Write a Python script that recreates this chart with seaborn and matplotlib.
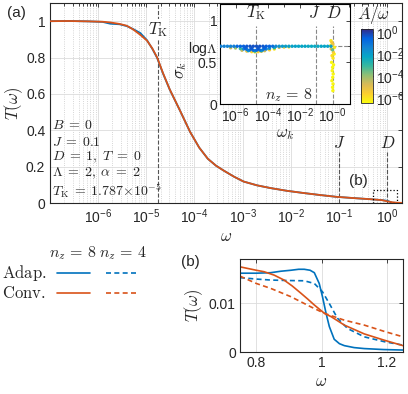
import numpy as np
import pandas as pd
import matplotlib
matplotlib.use("Agg")
import matplotlib.pyplot as plt
import seaborn as sns
from matplotlib.colors import LogNorm, LinearSegmentedColormap
from matplotlib.patches import Rectangle
from matplotlib.cm import ScalarMappable

# ---------------- data ----------------
TK = 1.787e-5
J_val = 0.1
D_val = 1.0

# main panel (a): log10(omega) and T(omega)
logw_main = [-7.0, -6.6, -6.2, -5.9, -5.74, -5.55, -5.4, -5.27, -5.12, -4.98, -4.87,
             -4.77, -4.65, -4.51, -4.30, -4.09, -3.90, -3.72, -3.55, -3.39, -3.18, -2.98,
             -2.70, -2.42, -2.08, -1.74, -1.40, -1.06, -0.70, -0.36, -0.12, 0.0, 0.1,
             0.2, 0.3]
T_conv_main = [1.000, 1.001, 0.999, 0.997, 0.993, 0.985, 0.975, 0.955, 0.925, 0.893, 0.850,
               0.800, 0.715, 0.625, 0.510, 0.392, 0.305, 0.243, 0.205, 0.178, 0.145, 0.118,
               0.097, 0.082, 0.067, 0.055, 0.044, 0.034, 0.027, 0.021, 0.016, 0.009, 0.004,
               0.0015, 0.0008]
T_adap_main = [1.000, 1.001, 0.999, 0.996, 0.986, 0.983, 0.973, 0.957, 0.935, 0.895, 0.848,
               0.798, 0.713, 0.624, 0.510, 0.392, 0.305, 0.243, 0.205, 0.178, 0.145, 0.118,
               0.097, 0.082, 0.067, 0.055, 0.044, 0.034, 0.027, 0.021, 0.016, 0.012, 0.0015,
               0.0006, 0.0004]

# panel (b)
adap8_w = [0.75, 0.80, 0.844, 0.875, 0.906, 0.93, 0.947, 0.965, 0.978, 0.993, 1.003,
           1.014, 1.024, 1.039, 1.055, 1.07, 1.10, 1.131, 1.19, 1.25]
adap8_T = [0.0161, 0.0161, 0.0162, 0.0165, 0.0167, 0.0169, 0.0169, 0.0167, 0.0162, 0.0140,
           0.0113, 0.0079, 0.0052, 0.0026, 0.0017, 0.0013, 0.0009, 0.0007, 0.0005, 0.0004]
adap4_w = [0.75, 0.80, 0.844, 0.90, 0.947, 0.978, 1.003, 1.024, 1.049, 1.08, 1.131, 1.193, 1.25]
adap4_T = [0.0152, 0.0149, 0.0147, 0.0146, 0.01455, 0.0140, 0.0123, 0.0099, 0.0069,
           0.0048, 0.0031, 0.0021, 0.0014]
conv8_w = [0.75, 0.80, 0.824, 0.855, 0.885, 0.91, 0.937, 0.958, 0.978, 1.009, 1.03,
           1.07, 1.131, 1.193, 1.25]
conv8_T = [0.0174, 0.0167, 0.0164, 0.0157, 0.0147, 0.0135, 0.0120, 0.0108, 0.0096, 0.0079,
           0.0072, 0.0055, 0.0037, 0.0024, 0.0013]
conv4_w = [0.75, 0.80, 0.844, 0.906, 0.968, 1.009, 1.07, 1.131, 1.193, 1.25]
conv4_T = [0.0155, 0.0140, 0.0130, 0.0113, 0.0092, 0.0079, 0.0065, 0.0055, 0.0042, 0.0031]

# inset: log10(omega_k), sigma_k, log10(Abar/omega)
inset_logw = [-6.9, -6.7, -6.5, -6.3, -6.1, -5.9, -5.7, -5.5, -5.3, -5.1, -4.9, -4.7,
              -4.5, -4.3, -4.1, -3.9, -3.7, -3.5, -3.3, -3.1, -2.9, -2.7, -2.5, -2.3,
              -2.1, -1.9, -1.7, -1.5, -1.3, -1.1, -0.9, -0.7, -0.5, -0.3, -0.1,
              -6.3, -6.0, -5.7, -5.5, -5.3, -5.1, -4.9, -4.7, -4.5, -4.3, -4.1, -3.9,
              -3.6, -3.3, -3.0, -2.7,
              -5.6, -5.3, -5.0, -4.8, -4.6, -4.4, -4.2, -3.9, -3.6,
              -5.4, -5.0, -4.6, -4.2, -5.2, -4.8, -4.4,
              -0.10, -0.05, 0.02, -0.08, 0.0, 0.05, -0.03, 0.03, -0.06, 0.06, 0.0,
              -0.02, 0.04, 0.01, -0.04, 0.03, 0.0, 0.02, 0.10, 0.12, -0.12]
inset_sigma = [0.693] * 35 + \
              [0.675, 0.672, 0.665, 0.660, 0.655, 0.650, 0.645, 0.645, 0.648, 0.652, 0.660, 0.668,
               0.675, 0.680, 0.683, 0.685,
               0.645, 0.635, 0.628, 0.625, 0.628, 0.632, 0.640, 0.650, 0.660,
               0.670, 0.665, 0.665, 0.670, 0.640, 0.635, 0.640,
               0.76, 0.74, 0.72, 0.66, 0.65, 0.62, 0.58, 0.55, 0.50, 0.47, 0.44,
               0.40, 0.36, 0.32, 0.28, 0.24, 0.20, 0.16, 0.60, 0.68, 0.70]
inset_logA = [-1.3, -1.3, -1.4, -1.3, -1.2, -0.7, -0.6, -0.5, -0.4, -0.3, -0.3, -0.3,
              -0.3, -0.4, -0.5, -0.6, -0.8, -1.5, -1.8, -1.9, -2.0, -2.0, -2.1, -2.1,
              -2.2, -2.2, -2.2, -2.3, -2.3, -2.3, -2.3, -2.2, -2.2, -2.1, -2.0,
              -4.5, -4.0, -3.0, -1.5, -1.0, -0.8, -0.7, -0.7, -0.8, -1.0, -1.3, -1.6,
              -2.5, -4.5, -5.5, -5.8,
              -4.5, -5.0, -5.5, -6.0, -5.5, -5.0, -4.5, -5.5, -6.0,
              -0.5, -0.4, -0.4, -0.6, -2.0, -2.5, -2.2,
              -6.0, -5.5, -5.2, -4.8, -3.5, -5.5, -5.8, -6.0, -6.3, -6.3, -6.3,
              -6.3, -6.3, -6.3, -6.3, -6.3, -6.3, -6.3, -6.3, -6.0, -6.2]

# ---------------- style ----------------
sns.set_style("white")
plt.rcParams["font.family"] = ["Liberation Sans", "DejaVu Sans"]
plt.rcParams["mathtext.fontset"] = "cm"
plt.rcParams["xtick.direction"] = "in"
plt.rcParams["ytick.direction"] = "in"
plt.rcParams["axes.linewidth"] = 0.8

BLUE = "#0072BD"
ORANGE = "#D95319"
DGRAY = "#555555"

parula = ["#352a87", "#0363e1", "#1485d4", "#06a7c6", "#38b99e",
          "#92bf73", "#d9ba56", "#fcce2e", "#f9fb0e"]
cmap = LinearSegmentedColormap.from_list("parula_r", parula[::-1])
norm = LogNorm(vmin=10 ** -6.4, vmax=10 ** 0.3)

W, H = 408, 394
fig = plt.figure(figsize=(W / 100, H / 100), dpi=100)


def rect(l, t, r, b):
    return [l / W, 1 - b / H, (r - l) / W, (b - t) / H]


def fx(px):
    return px / W


def fy(py):
    return 1 - py / H


def sfmt(e):
    return r"$\mathregular{10^{%s}}$" % e


# ---------------- main panel (a) ----------------
ax = fig.add_axes(rect(49.5, 3, 402, 203))
ax.set_xscale("log")
ax.set_axisbelow(True)
main_df = pd.DataFrame({"w": 10.0 ** np.array(logw_main),
                        "Tc": T_conv_main, "Ta": T_adap_main})
sns.lineplot(data=main_df, x="w", y="Ta", ax=ax, color=BLUE, lw=1.3, sort=False, zorder=4)
sns.lineplot(data=main_df, x="w", y="Tc", ax=ax, color=ORANGE, lw=1.3, sort=False, zorder=5)
ax.set_xlim(1e-7, 2)
ax.set_ylim(0, 1.1)
ax.set_xticks([1e-6, 1e-5, 1e-4, 1e-3, 1e-2, 1e-1, 1e0])
ax.set_xticklabels([sfmt(e) for e in ["-6", "-5", "-4", "-3", "-2", "-1", "0"]], fontsize=10)
ax.xaxis.set_minor_locator(matplotlib.ticker.LogLocator(base=10, subs=np.arange(2, 10), numticks=20))
ax.xaxis.set_minor_formatter(matplotlib.ticker.NullFormatter())
ax.set_yticks([0, 0.2, 0.4, 0.6, 0.8, 1.0])
ax.set_yticklabels(["0", "0.2", "0.4", "0.6", "0.8", "1"], fontsize=10)
ax.tick_params(which="both", top=True, right=True, length=3, width=0.6, pad=3)
ax.tick_params(which="minor", length=1.8)
ax.grid(which="major", color="#dcdcdc", lw=0.6)
ax.grid(which="minor", axis="x", color="#c8c8c8", lw=0.6, ls=":")
ax.set_xlabel(r"$\omega$", fontsize=12, labelpad=2)
ax.set_ylabel(r"$T(\omega)$", fontsize=12, labelpad=1)

ax.axvline(TK, color=DGRAY, ls="--", lw=0.8, zorder=3)
ax.text(TK, 0.955, r"$T_{\rm K}$", ha="center", va="center", fontsize=12,
        bbox=dict(fc="white", ec="none", pad=0.6), zorder=3.5)
ax.vlines([J_val, D_val], 0, 0.28, colors=DGRAY, linestyles="--", lw=0.8, zorder=3)
ax.text(J_val, 0.33, r"$J$", ha="center", va="center", fontsize=12)
ax.text(D_val, 0.33, r"$D$", ha="center", va="center", fontsize=12)
ax.add_patch(Rectangle((0.5, 0.0), 1.05, 0.07, fill=False, ls=":", ec="k", lw=0.9, zorder=6))
fig.text(fx(358), fy(181), "(b)", fontsize=11, ha="center", va="center")
fig.text(fx(16), fy(13), "(a)", fontsize=11, ha="center", va="center")

params = [r"$B\;=\;0$", r"$J\;=\;0.1$", r"$D\;=\;1,\; T\;=\;0$",
          r"$\Lambda\;=\;2,\; \alpha\;=\;2$",
          r"$T_{\rm K}\;=\;1.787{\times}10^{-5}$"]
param_y = [125, 141.5, 157.5, 173.5, 190.5]
for s, py in zip(params, param_y):
    fig.text(fx(52), fy(py), s, fontsize=10, ha="left", va="center")

# ---------------- inset ----------------
ax_in = fig.add_axes(rect(220, 4, 350, 104))
ax_in.set_facecolor("white")
ax_in.set_xscale("log")
ins_df = pd.DataFrame({"w": 10.0 ** np.array(inset_logw), "s": inset_sigma,
                       "c": 10.0 ** np.array(inset_logA)}).sort_values("c")
ax_in.axhline(np.log(2), color="#888888", ls="--", lw=0.8, zorder=1)
ax_in.vlines([TK, J_val, D_val], 0, 0.93, colors="#888888", linestyles="--", lw=0.8, zorder=1)
sns.scatterplot(data=ins_df, x="w", y="s", hue="c", palette=cmap, hue_norm=norm,
                s=6, linewidth=0, legend=False, ax=ax_in, zorder=3)
ax_in.set_xlim(1.1e-7, 12)
ax_in.set_ylim(0, 1.2)
ax_in.set_xticks([1e-6, 1e-4, 1e-2, 1e0])
ax_in.set_xticklabels([sfmt(e) for e in ["-6", "-4", "-2", "-0"]], fontsize=10)
ax_in.xaxis.set_minor_locator(matplotlib.ticker.FixedLocator([1e-7, 1e-5, 1e-3, 1e-1, 1e1]))
ax_in.xaxis.set_minor_formatter(matplotlib.ticker.NullFormatter())
ax_in.set_yticks([0, 0.5, np.log(2), 1])
ax_in.set_yticklabels(["0", "0.5", r"log$\Lambda$", "1"], fontsize=10)
ax_in.tick_params(which="both", top=True, right=True, length=3, width=0.6, pad=2)
ax_in.tick_params(which="minor", length=1.8)
ax_in.set_xlabel(r"$\omega_k$", fontsize=12, labelpad=1)
ax_in.set_ylabel(r"$\sigma_k$", fontsize=12)
ax_in.yaxis.set_label_coords(-0.24, 0.34)
ax_in.text(TK, 1.095, r"$T_{\rm K}$", ha="center", va="center", fontsize=12)
ax_in.text(J_val * 0.75, 1.095, r"$J$", ha="center", va="center", fontsize=12)
ax_in.text(D_val * 1.1, 1.095, r"$D$", ha="center", va="center", fontsize=12)
fig.text(fx(289), fy(95), r"$n_z\,=\,8$", fontsize=11.5, ha="center", va="center")
for sp in ax_in.spines.values():
    sp.set_linewidth(0.8)
    sp.set_color("k")

# colorbar
cax = fig.add_axes(rect(361, 29, 373, 103))
cb = fig.colorbar(ScalarMappable(norm=norm, cmap=cmap), cax=cax)
cb.set_ticks([1e0, 1e-2, 1e-4, 1e-6])
cb.set_ticklabels([sfmt(e) for e in ["0", "-2", "-4", "-6"]])
cb.ax.tick_params(labelsize=10, length=2, width=0.6, pad=2)
cb.ax.minorticks_off()
cb.outline.set_linewidth(0.6)
fig.text(fx(373), fy(15), r"$\bar{A}/\omega$", fontsize=12, ha="center", va="center")

# ---------------- panel (b) ----------------
ax_b = fig.add_axes(rect(240, 259, 403, 352))
ax_b.set_axisbelow(True)
sns.lineplot(x=adap8_w, y=adap8_T, ax=ax_b, color=BLUE, lw=1.2, sort=False)
sns.lineplot(x=adap4_w, y=adap4_T, ax=ax_b, color=BLUE, lw=1.2, ls=(0, (3, 2)), sort=False)
sns.lineplot(x=conv8_w, y=conv8_T, ax=ax_b, color=ORANGE, lw=1.2, sort=False)
sns.lineplot(x=conv4_w, y=conv4_T, ax=ax_b, color=ORANGE, lw=1.2, ls=(0, (3, 2)), sort=False)
ax_b.set_xlim(0.75, 1.25)
ax_b.set_ylim(0, 0.019)
ax_b.set_xticks([0.8, 1.0, 1.2])
ax_b.set_xticklabels(["0.8", "1", "1.2"], fontsize=10)
ax_b.set_yticks([0, 0.01])
ax_b.set_yticklabels(["0", "0.01"], fontsize=10)
ax_b.tick_params(top=True, right=True, length=3, width=0.6, pad=3)
ax_b.grid(color="#dcdcdc", lw=0.6)
ax_b.set_xlabel(r"$\omega$", fontsize=12, labelpad=3)
ax_b.set_ylabel(r"$T(\omega)$", fontsize=12, labelpad=3)
fig.text(fx(190), fy(262), "(b)", fontsize=11, ha="center", va="center")

# ---------------- legend block ----------------
lax = fig.add_axes(rect(0, 240, 170, 310))
lax.set_xlim(0, 170)
lax.set_ylim(310, 240)
lax.axis("off")
lax.text(73, 253, r"$n_z\,=\,8$", fontsize=11.5, ha="center", va="center")
lax.text(123, 253, r"$n_z\,=\,4$", fontsize=11.5, ha="center", va="center")
lax.text(24, 273, r"$\mathrm{Adap.}$", fontsize=12, ha="center", va="center")
lax.text(24, 293, r"$\mathrm{Conv.}$", fontsize=12, ha="center", va="center")
lax.plot([57, 90], [273, 273], color=BLUE, lw=1.2)
lax.plot([106, 137], [273, 273], color=BLUE, lw=1.2, ls=(0, (3, 2)))
lax.plot([57, 90], [293, 293], color=ORANGE, lw=1.2)
lax.plot([106, 137], [293, 293], color=ORANGE, lw=1.2, ls=(0, (3, 2)))

fig.savefig("out.png", dpi=100)
